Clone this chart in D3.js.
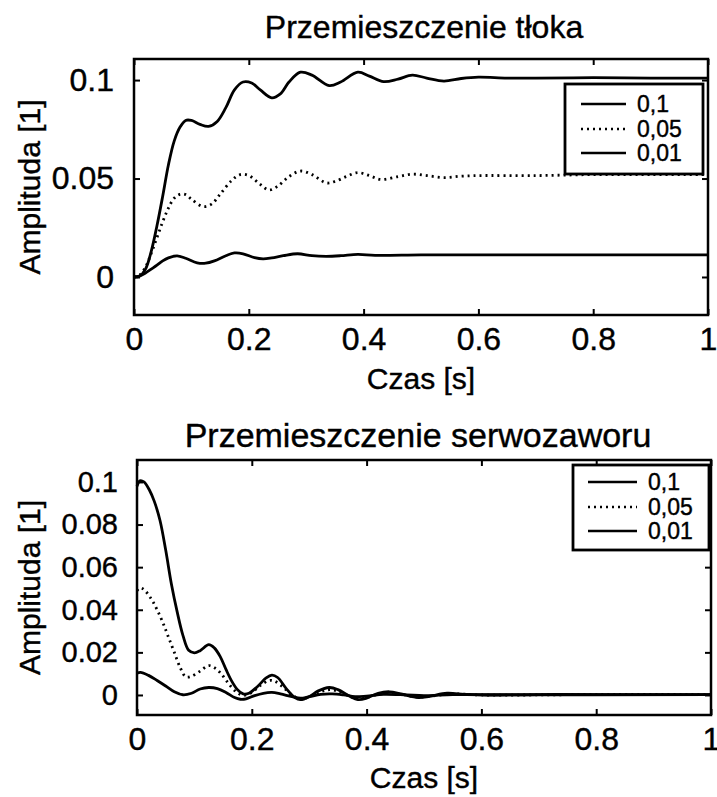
<!DOCTYPE html>
<html>
<head>
<meta charset="utf-8">
<script src="https://cdn.jsdelivr.net/npm/d3@7"></script>
<style>
  body { margin: 0; background: #fff; }
  text { font-family: "Liberation Sans", Arial, sans-serif; fill: #000; stroke: #000; stroke-width: 0.4px; }
</style>
</head>
<body>
<div id="chart"></div>
<script>
// legend labels
var seriesNames = ["0,1", "0,05", "0,01"];

// x ticks (shared)
var timeTicks = [0, 0.2, 0.4, 0.6, 0.8, 1];
var timeTickLabels = ["0", "0.2", "0.4", "0.6", "0.8", "1"];

// piston ticks + data  [time, amplitude]
var pistonTicks = [0, 0.05, 0.1];
var pistonTickLabels = ["0", "0.05", "0.1"];

var piston01 = [[0,0],[0.01,0.0005],[0.02,0.004],[0.03,0.013],[0.04,0.026],[0.05,0.041],[0.06,0.057],
  [0.07,0.069],[0.08,0.076],[0.09,0.0795],[0.1,0.0795],[0.115,0.0775],[0.13,0.0765],[0.145,0.079],
  [0.16,0.086],[0.175,0.095],[0.19,0.099],[0.205,0.0985],[0.22,0.095],[0.24,0.091],[0.255,0.093],
  [0.27,0.099],[0.29,0.104],[0.31,0.1025],[0.34,0.0972],[0.36,0.099],[0.39,0.104],[0.41,0.102],
  [0.435,0.0992],[0.46,0.1005],[0.485,0.1025],[0.51,0.101],[0.54,0.0995],[0.57,0.1008],[0.6,0.1015],
  [0.65,0.101],[0.7,0.101],[0.8,0.1012],[0.9,0.101],[1,0.101]];

var piston005 = [[0,0],[0.01,0.001],[0.02,0.005],[0.03,0.012],[0.04,0.02],[0.05,0.028],[0.06,0.035],
  [0.07,0.04],[0.08,0.042],[0.09,0.0418],[0.1,0.0395],[0.12,0.0358],[0.135,0.037],[0.15,0.042],
  [0.17,0.049],[0.185,0.052],[0.2,0.0515],[0.22,0.047],[0.235,0.0442],[0.25,0.046],[0.27,0.051],
  [0.29,0.0538],[0.31,0.052],[0.335,0.0478],[0.35,0.0485],[0.37,0.051],[0.39,0.053],[0.41,0.0515],
  [0.43,0.0495],[0.46,0.051],[0.485,0.0522],[0.51,0.0515],[0.54,0.0505],[0.57,0.0512],[0.6,0.0515],
  [0.7,0.0515],[0.8,0.052],[0.9,0.052],[1,0.052]];

var piston001 = [[0,0],[0.01,0.0005],[0.02,0.002],[0.03,0.004],[0.04,0.006],[0.05,0.0082],[0.06,0.0097],
  [0.075,0.0107],[0.09,0.0095],[0.11,0.0072],[0.125,0.007],[0.14,0.0082],[0.16,0.0108],[0.175,0.0122],
  [0.19,0.0118],[0.21,0.0098],[0.225,0.0092],[0.24,0.0097],[0.26,0.0108],[0.285,0.0118],[0.31,0.0108],
  [0.335,0.0105],[0.36,0.0108],[0.39,0.0115],[0.42,0.011],[0.5,0.0112],[0.6,0.0112],[0.8,0.0112],[1,0.0112]];

// servo valve ticks + data
var valveTicks = [0, 0.02, 0.04, 0.06, 0.08, 0.1];
var valveTickLabels = ["0", "0.02", "0.04", "0.06", "0.08", "0.1"];

var valve01 = [[0,0.098],[0.005,0.1005],[0.012,0.1],[0.022,0.096],[0.03,0.091],[0.04,0.082],[0.05,0.068],
  [0.06,0.052],[0.07,0.039],[0.08,0.028],[0.09,0.021],[0.1,0.0198],[0.11,0.0208],[0.125,0.0236],
  [0.135,0.022],[0.145,0.018],[0.155,0.012],[0.165,0.0065],[0.175,0.0025],[0.185,0.0005],[0.195,0.0008],
  [0.21,0.004],[0.225,0.008],[0.235,0.0093],[0.245,0.0082],[0.26,0.003],[0.275,-0.0012],[0.285,-0.0022],
  [0.3,-0.0008],[0.315,0.0018],[0.335,0.0035],[0.35,0.0025],[0.37,-0.0005],[0.385,-0.0022],[0.4,-0.0015],
  [0.42,0.0008],[0.44,0.0015],[0.46,0.0005],[0.49,-0.0012],[0.51,-0.0006],[0.54,0.0008],[0.57,0.0003],
  [0.6,0],[0.7,0.0002],[0.8,0.0002],[1,0.0002]];

var valve005 = [[0,0.049],[0.005,0.0503],[0.012,0.0495],[0.025,0.045],[0.035,0.04],[0.045,0.034],
  [0.055,0.027],[0.065,0.02],[0.075,0.013],[0.085,0.0085],[0.095,0.0088],[0.11,0.0112],[0.125,0.0138],
  [0.135,0.0128],[0.145,0.0105],[0.155,0.007],[0.165,0.0035],[0.175,0.001],[0.185,-0.0002],[0.2,0.0012],
  [0.215,0.0045],[0.23,0.0068],[0.24,0.0065],[0.255,0.0035],[0.27,0],[0.285,-0.002],[0.3,-0.0008],
  [0.32,0.0015],[0.335,0.0025],[0.35,0.0018],[0.37,-0.0005],[0.385,-0.0018],[0.4,-0.0012],[0.43,0.0008],
  [0.46,0.0003],[0.49,-0.001],[0.52,-0.0003],[0.55,0.0005],[0.6,0],[0.8,0.0002],[1,0.0002]];

var valve001 = [[0,0.0102],[0.006,0.0106],[0.02,0.0092],[0.035,0.0068],[0.05,0.0042],[0.065,0.0015],
  [0.08,0.0001],[0.095,0.0008],[0.11,0.0028],[0.125,0.0035],[0.14,0.003],[0.155,0.0012],[0.17,-0.0012],
  [0.18,-0.002],[0.19,-0.0018],[0.205,-0.0003],[0.22,0.0008],[0.235,0.0012],[0.25,0.0005],[0.27,-0.0008],
  [0.285,-0.0015],[0.3,-0.0008],[0.32,0.0003],[0.34,0.0005],[0.36,0],[0.38,-0.0008],[0.4,-0.0005],
  [0.43,0.0003],[0.47,0],[0.5,-0.0003],[0.55,0.0002],[0.6,0.0001],[1,0.0002]];

var svg = d3.select("#chart").append("svg")
    .attr("width", 717)
    .attr("height", 797);

svg.append("rect").attr("width", 717).attr("height", 797).attr("fill", "#fff");

var dashes = [null, "2,4", null];

function drawPanel(p) {
    var x = d3.scaleLinear().domain([0, 1]).range([p.left, p.right]);
    var y = d3.scaleLinear().domain(p.yDomain).range([p.bottom, p.top]);

    var g = svg.append("g");

    // title
    g.append("text")
        .attr("x", p.titleX)
        .attr("y", p.titleY)
        .attr("text-anchor", "middle")
        .style("font-size", p.titleSize + "px")
        .text(p.title);

    // curves
    var line = d3.line()
        .x(d => x(d[0]))
        .y(d => y(d[1]))
        .curve(d3.curveCatmullRom.alpha(0.5));

    p.series.forEach(function(s, i) {
        g.append("path")
            .datum(s)
            .attr("fill", "none")
            .attr("stroke", "#000")
            .attr("stroke-width", 2.8)
            .attr("stroke-dasharray", dashes[i])
            .attr("d", line);
    });

    // axes, ticks inward (matlab style)
    var xb = g.append("g").attr("transform", `translate(0,${p.bottom})`)
        .call(d3.axisBottom(x).tickValues(timeTicks).tickFormat((d, i) => timeTickLabels[i]).tickSize(-6).tickPadding(12));
    g.append("g").attr("transform", `translate(0,${p.top})`)
        .call(d3.axisTop(x).tickValues(timeTicks).tickFormat("").tickSize(-6));
    var yl = g.append("g").attr("transform", `translate(${p.left},0)`)
        .call(d3.axisLeft(y).tickValues(p.yTicks).tickFormat((d, i) => p.yLabels[i]).tickSize(-6).tickPadding(p.yPad));
    g.append("g").attr("transform", `translate(${p.right},0)`)
        .call(d3.axisRight(y).tickValues(p.yTicks).tickFormat("").tickSize(-6));

    g.selectAll(".domain").remove();
    g.selectAll(".tick line").attr("stroke", "#000").attr("stroke-width", 2);
    xb.selectAll("text").style("font-size", "32px").attr("font-family", null);
    yl.selectAll("text").style("font-size", p.yTickSize + "px").attr("font-family", null);

    // frame
    g.append("rect")
        .attr("x", p.left).attr("y", p.top)
        .attr("width", p.right - p.left).attr("height", p.bottom - p.top)
        .attr("fill", "none").attr("stroke", "#000").attr("stroke-width", 2.5);

    // axis labels
    g.append("text")
        .attr("x", (p.left + p.right) / 2)
        .attr("y", p.xLabelY)
        .attr("text-anchor", "middle")
        .style("font-size", "30px")
        .text("Czas [s]");

    g.append("text")
        .attr("transform", `translate(40,${(p.top + p.bottom) / 2}) rotate(-90)`)
        .attr("text-anchor", "middle")
        .style("font-size", "30px")
        .text("Amplituda [1]");

    // legend
    var L = p.legend;
    var lg = g.append("g");
    lg.append("rect")
        .attr("x", L.x).attr("y", L.y).attr("width", L.w).attr("height", L.h)
        .attr("fill", "#fff").attr("stroke", "#000").attr("stroke-width", 2.8);
    seriesNames.forEach(function(name, i) {
        var yy = L.rowY[i];
        lg.append("line")
            .attr("x1", L.lineX[0]).attr("x2", L.lineX[1])
            .attr("y1", yy).attr("y2", yy)
            .attr("stroke", "#000").attr("stroke-width", 2.6)
            .attr("stroke-dasharray", dashes[i]);
        lg.append("text")
            .attr("x", L.textX).attr("y", yy)
            .attr("dy", "0.36em")
            .style("font-size", L.size + "px")
            .text(name);
    });
}

drawPanel({
    title: "Przemieszczenie tłoka", titleX: 424, titleY: 38, titleSize: 32,
    left: 134, right: 708, top: 59, bottom: 315,
    yDomain: [-0.0193, 0.1107],
    yTicks: pistonTicks, yLabels: pistonTickLabels, yPad: 20, yTickSize: 32,
    xLabelY: 389,
    series: [piston01, piston005, piston001],
    legend: { x: 565, y: 84, w: 138, h: 90, rowY: [104, 129, 153], lineX: [581, 626], textX: 637, size: 23 }
});

drawPanel({
    title: "Przemieszczenie serwozaworu", titleX: 418, titleY: 447, titleSize: 34,
    left: 137, right: 711, top: 460, bottom: 715,
    yDomain: [-0.0094, 0.1103],
    yTicks: valveTicks, yLabels: valveTickLabels, yPad: 19, yTickSize: 29,
    xLabelY: 788,
    series: [valve01, valve005, valve001],
    legend: { x: 573, y: 465, w: 136, h: 85, rowY: [482, 507, 531], lineX: [588, 637], textX: 648, size: 23 }
});
</script>
</body>
</html>
